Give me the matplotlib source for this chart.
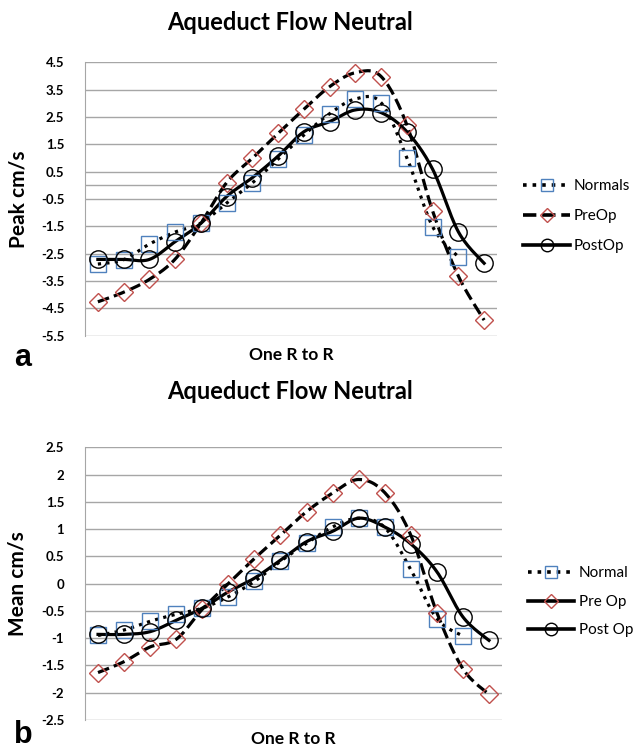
import numpy as np
import matplotlib.pyplot as plt
from matplotlib.lines import Line2D

# ---- data ----
points = list(range(1, 17))

peak_normals = [-2.88, -2.72, -2.15, -1.71, -1.38, -0.65, 0.09, 0.96, 1.84, 2.62,
                3.16, 3.02, 1.01, -1.51, -2.62, np.nan]
peak_preop = [-4.26, -3.91, -3.44, -2.70, -1.39, 0.10, 0.99, 1.90, 2.78, 3.61,
              4.12, 3.98, 2.21, -0.94, -3.32, -4.93]
peak_postop = [-2.71, -2.71, -2.71, -2.06, -1.39, -0.41, 0.28, 1.07, 1.96, 2.33,
               2.76, 2.66, 1.96, 0.59, -1.70, -2.85]

mean_normals = [-0.95, -0.85, -0.69, -0.56, -0.45, -0.24, 0.04, 0.41, 0.74, 1.04,
                1.20, 1.03, 0.26, -0.64, -0.96, np.nan]
mean_preop = [-1.63, -1.43, -1.16, -1.02, -0.47, 0.00, 0.46, 0.89, 1.32, 1.66,
              1.91, 1.67, 0.89, -0.53, -1.56, -2.03]
mean_postop = [-0.93, -0.93, -0.88, -0.67, -0.45, -0.15, 0.10, 0.43, 0.77, 0.96,
               1.20, 1.04, 0.73, 0.22, -0.61, -1.04]

peak_ticks = np.arange(-5.5, 4.6, 1.0)
mean_ticks = np.arange(-2.5, 2.6, 0.5)

FONT = 'Lato'
BLUE = '#4F81BD'
RED = '#C0504D'
GRID = '#A6A6A6'


def smooth(x, y, n=16):
    # excel-like smoothed line (bezier through the points)
    x = np.asarray(x, float)
    y = np.asarray(y, float)
    ok = ~np.isnan(y)
    x, y = x[ok], y[ok]
    P = np.column_stack([x, y])
    out = [P[0]]
    t = np.linspace(0, 1, n)[1:, None]
    for i in range(len(P) - 1):
        p0 = P[i - 1] if i > 0 else P[i]
        p1, p2 = P[i], P[i + 1]
        p3 = P[i + 2] if i + 2 < len(P) else P[i + 1]
        c1 = p1 + (p2 - p0) / 6
        c2 = p2 - (p3 - p1) / 6
        seg = ((1 - t) ** 3) * p1 + 3 * ((1 - t) ** 2) * t * c1 + 3 * (1 - t) * t ** 2 * c2 + t ** 3 * p2
        out.extend(seg)
    out = np.array(out)
    return out[:, 0], out[:, 1]


def draw(ax, normals, preop, postop, ticks):
    styles = [
        (normals, ':', 's', BLUE, 12),
        (preop, '--', 'D', RED, 9.5),
        (postop, '-', 'o', 'black', 12.5),
    ]
    for vals, ls, mk, mc, ms in styles:
        sx, sy = smooth(points, vals)
        ax.plot(sx, sy, color='black', ls=ls, lw=2.3, zorder=3)
        ax.plot(points, vals, ls='none', marker=mk, ms=ms, mfc='none', mec=mc,
                mew=1.0, zorder=4)
    ax.set_xlim(0.5, 16.5)
    ax.set_ylim(ticks[0], ticks[-1])
    ax.set_yticks(ticks)
    ax.set_yticklabels(['%g' % v for v in ticks], fontfamily=FONT, fontweight='bold', fontsize=9.5)
    ax.set_xticks([])
    ax.grid(axis='y', color=GRID, lw=1.0)
    ax.set_axisbelow(True)
    for s in ['top', 'right', 'bottom']:
        ax.spines[s].set_visible(False)
    ax.spines['left'].set_color(GRID)
    ax.tick_params(axis='y', length=0, pad=15)


fig = plt.figure(figsize=(6.35, 7.5), dpi=100)

ax1 = fig.add_axes([85 / 635, 1 - 335.7 / 750, 412 / 635, 273.4 / 750])
draw(ax1, peak_normals, peak_preop, peak_postop, peak_ticks)
ax1.axhline(0, color=GRID, lw=1.0, zorder=1)
ax1.set_ylabel('Peak cm/s', fontfamily=FONT, fontweight='bold', fontsize=15)
ax1.yaxis.set_label_coords(-0.138, 0.5)
ax1.set_xlabel('One R to R', fontfamily=FONT, fontweight='bold', fontsize=12.5, labelpad=8)

ax2 = fig.add_axes([85 / 635, 1 - 720 / 750, 417 / 635, 272.7 / 750])
draw(ax2, mean_normals, mean_preop, mean_postop, mean_ticks)
ax2.set_ylabel('Mean cm/s', fontfamily=FONT, fontweight='bold', fontsize=15)
ax2.yaxis.set_label_coords(-0.137, 0.5)
ax2.set_xlabel('One R to R', fontfamily=FONT, fontweight='bold', fontsize=12.5, labelpad=8)

fig.text(290 / 635, 1 - 23 / 750, 'Aqueduct Flow Neutral', fontfamily=FONT,
         fontweight='bold', fontsize=17, ha='center', va='center')
fig.text(290 / 635, 1 - 392 / 750, 'Aqueduct Flow Neutral', fontfamily=FONT,
         fontweight='bold', fontsize=17, ha='center', va='center')

# legends
h_top = [
    Line2D([], [], color='black', ls=':', lw=2.6, marker='s', ms=9, mfc='none', mec=BLUE),
    Line2D([], [], color='black', ls='--', lw=2.6, marker='D', ms=7, mfc='none', mec=RED),
    Line2D([], [], color='black', ls='-', lw=2.6, marker='o', ms=9, mfc='none', mec='black'),
]
ax1.legend(h_top, ['Normals', 'PreOp', 'PostOp'], loc='center left',
           bbox_to_anchor=(1.063, 0.438), frameon=False, handlelength=3.1,
           handletextpad=0.2, labelspacing=1.05, borderpad=0, borderaxespad=0,
           prop={'family': FONT, 'size': 11})

h_bot = [
    Line2D([], [], color='black', ls=':', lw=2.6, marker='s', ms=9, mfc='none', mec=BLUE),
    Line2D([], [], color='black', ls='-', lw=2.6, marker='D', ms=7, mfc='none', mec=RED),
    Line2D([], [], color='black', ls='-', lw=2.6, marker='o', ms=9, mfc='none', mec='black'),
]
ax2.legend(h_bot, ['Normal', 'Pre Op', 'Post Op'], loc='center left',
           bbox_to_anchor=(1.063, 0.433), frameon=False, handlelength=3.0,
           handletextpad=0.3, labelspacing=0.95, borderpad=0, borderaxespad=0,
           prop={'family': FONT, 'size': 11})

fig.text(14 / 635, 1 - 358 / 750, 'a', fontfamily='Liberation Sans', fontweight='bold',
         fontsize=22, ha='left', va='center')
fig.text(14 / 635, 1 - 735 / 750, 'b', fontfamily='Liberation Sans', fontweight='bold',
         fontsize=22, ha='left', va='center')

fig.savefig('out.png', dpi=100)
